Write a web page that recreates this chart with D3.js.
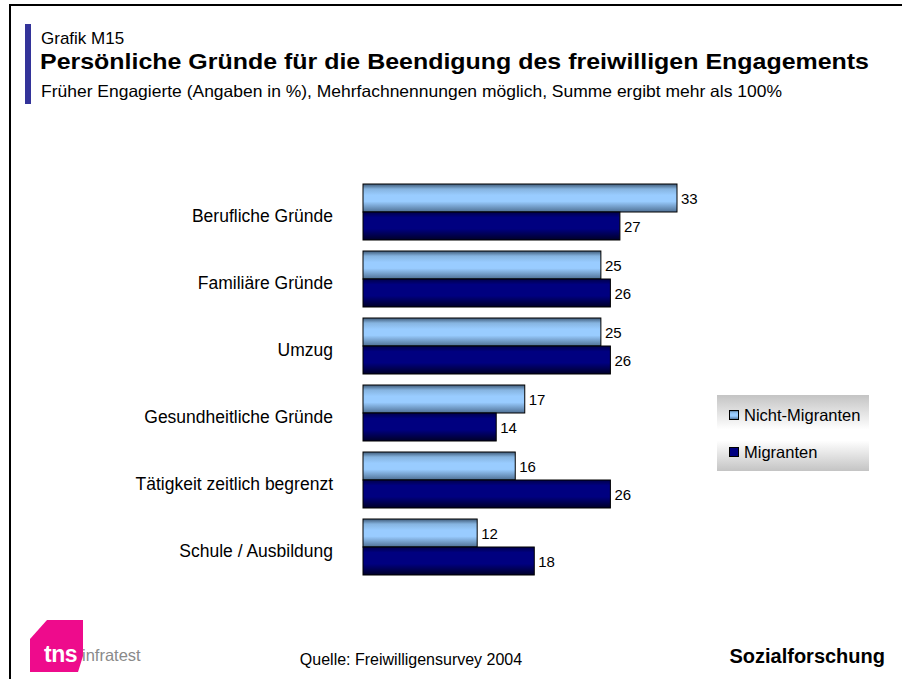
<!DOCTYPE html>
<html>
<head>
<meta charset="utf-8">
<script src="https://cdn.jsdelivr.net/npm/d3@7"></script>
<style>
  html, body { margin: 0; padding: 0; background: #fff; }
  svg { display: block; font-family: "Liberation Sans", Arial, sans-serif; }
</style>
</head>
<body>
<svg id="chart" width="902" height="679"></svg>
<script>
const categories = ["Berufliche Gründe", "Familiäre Gründe", "Umzug", "Gesundheitliche Gründe", "Tätigkeit zeitlich begrenzt", "Schule / Ausbildung"];
const nichtMigranten = [33, 25, 25, 17, 16, 12];
const migranten = [27, 26, 26, 14, 26, 18];
const seriesNames = ["Nicht-Migranten", "Migranten"];

const svg = d3.select("#chart");
const defs = svg.append("defs");

function grad(id, stops) {
  const g = defs.append("linearGradient").attr("id", id)
    .attr("x1", 0).attr("y1", 0).attr("x2", 0).attr("y2", 1);
  stops.forEach(s => g.append("stop").attr("offset", s[0]).attr("stop-color", s[1]));
}
grad("gLight", [[0, "#3e5a78"], [0.18, "#86b4e0"], [0.4, "#99ccff"], [0.62, "#99ccff"], [1, "#4f7094"]]);
grad("gDark", [[0, "#00004a"], [0.2, "#000080"], [0.6, "#000080"], [1, "#000028"]]);
grad("gLegend", [[0, "#c4c4c4"], [0.45, "#ffffff"], [0.6, "#ffffff"], [1, "#c4c4c4"]]);

// frame
svg.append("rect").attr("x", 10).attr("y", 5).attr("width", 900).attr("height", 700)
  .attr("fill", "none").attr("stroke", "#000").attr("stroke-width", 2);

// header
svg.append("rect").attr("x", 25).attr("y", 24).attr("width", 6).attr("height", 80).attr("fill", "#333399");
svg.append("text").attr("x", 41).attr("y", 44).attr("font-size", 17).text("Grafik M15");
svg.append("text").attr("x", 40).attr("y", 69).attr("font-size", 22.5).attr("font-weight", "bold")
  .attr("textLength", 829).attr("lengthAdjust", "spacingAndGlyphs")
  .text("Persönliche Gründe für die Beendigung des freiwilligen Engagements");
svg.append("text").attr("x", 41).attr("y", 97).attr("font-size", 16.5)
  .attr("textLength", 741).attr("lengthAdjust", "spacingAndGlyphs")
  .text("Früher Engagierte (Angaben in %), Mehrfachnennungen möglich, Summe ergibt mehr als 100%");

// scales
const x = d3.scaleLinear().domain([0, 33]).range([363, 677]);
const y = d3.scaleBand().domain(categories).range([184, 575]).paddingInner(11 / 67).paddingOuter(0);
const sub = d3.scaleBand().domain(seriesNames).range([0, y.bandwidth()]);

const data = categories.map((c, i) => ({ cat: c, vals: [nichtMigranten[i], migranten[i]] }));

const groups = svg.append("g").selectAll("g").data(data).join("g")
  .attr("transform", d => `translate(0,${y(d.cat)})`);

groups.selectAll("rect").data(d => d.vals.map((v, j) => ({ v, s: seriesNames[j], j }))).join("rect")
  .attr("x", x(0))
  .attr("y", d => sub(d.s))
  .attr("width", d => x(d.v) - x(0))
  .attr("height", sub.bandwidth())
  .attr("fill", d => d.j === 0 ? "url(#gLight)" : "url(#gDark)")
  .attr("stroke", "#000").attr("stroke-width", 1);

groups.selectAll("text.val").data(d => d.vals.map((v, j) => ({ v, s: seriesNames[j], j }))).join("text")
  .attr("class", "val")
  .attr("x", d => x(d.v) + 4)
  .attr("y", d => sub(d.s) + sub.bandwidth() / 2 + 6)
  .attr("font-size", 15)
  .text(d => d.v);

groups.append("text")
  .attr("x", 333).attr("y", y.bandwidth() / 2 + 10)
  .attr("text-anchor", "end").attr("font-size", 17.5)
  .text(d => d.cat);

// legend
const lg = svg.append("g");
lg.append("rect").attr("x", 717).attr("y", 395).attr("width", 152).attr("height", 76).attr("fill", "url(#gLegend)");
seriesNames.forEach((s, i) => {
  const yy = 410 + i * 37;
  lg.append("rect").attr("x", 729.5).attr("y", yy + 0.5).attr("width", 9).attr("height", 9)
    .attr("fill", i === 0 ? "url(#gLight)" : "#000080").attr("stroke", "#000").attr("stroke-width", 1);
  lg.append("text").attr("x", 744).attr("y", yy + 11).attr("font-size", 16.5).text(s);
});

// footer
svg.append("text").attr("x", 411).attr("y", 665).attr("text-anchor", "middle").attr("font-size", 16)
  .text("Quelle: Freiwilligensurvey 2004");
svg.append("text").attr("x", 885).attr("y", 663).attr("text-anchor", "end").attr("font-size", 20).attr("font-weight", "bold")
  .text("Sozialforschung");

// logo
const logo = svg.append("g");
logo.append("polygon").attr("points", "30,639 47,620 83,620 83,656 78,672 30,672").attr("fill", "#ee0b8c");
logo.append("text").attr("x", 44).attr("y", 662).attr("font-size", 23).attr("font-weight", "bold")
  .attr("fill", "#fff").attr("letter-spacing", -0.5).text("tns");
logo.append("text").attr("x", 82).attr("y", 661).attr("font-size", 16.5)
  .attr("font-family", "'Liberation Sans Narrow', 'Liberation Sans', sans-serif").attr("fill", "#8a8a8a").text("infratest");
</script>
</body>
</html>
